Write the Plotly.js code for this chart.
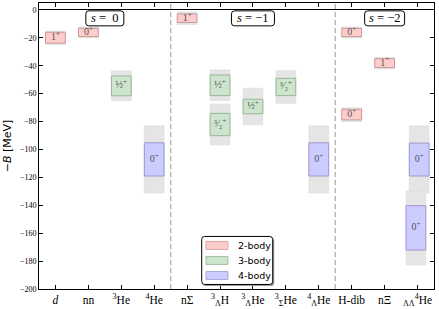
<!DOCTYPE html>
<html>
<head>
<meta charset="utf-8">
<script src="https://cdn.plot.ly/plotly-3.0.1.min.js"></script>
<style>html,body{margin:0;padding:0;background:#fff;}#chart{width:439px;height:309px;}</style>
</head>
<body>
<div id="chart"></div>
<script>
// ---- data ----
const categories = ['<i>d</i>', 'nn', '<sup>3</sup>He', '<sup>4</sup>He', 'nΣ',
  '<sup>3</sup><sub>Λ</sub>H', '<sup>3</sup><sub>Λ</sub>He', '<sup>3</sup><sub>Σ</sub>He',
  '<sup>4</sup><sub>Λ</sub>He', 'H-dib', 'nΞ', '<sub>ΛΛ</sub><sup>4</sup>He'];

const sectorLabels = ['<i>s</i> =  0', '<i>s</i> = −1', '<i>s</i> = −2'];
const sectorFirst = [0, 4, 9];
const sectorLast = [3, 8, 11];

// 2-body states
const twoCat = [0, 1, 4, 9, 9, 10];
const twoCenter = [-19.9, -16.1, -5.9, -16.1, -75.0, -38.1];
const twoStat = [3.9, 3.0, 3.1, 3.0, 3.8, 3.2];
const twoTotal = [4.8, 3.8, 4.5, 3.9, 4.9, 4.1];
const twoJP = ['1<sup>+</sup>', '0<sup>+</sup>', '1<sup>+</sup>', '0<sup>+</sup>', '0<sup>+</sup>', '1<sup>+</sup>'];

// 3-body states
const threeCat = [2, 5, 5, 6, 7];
const threeCenter = [-54.4, -54.0, -82.1, -69.2, -55.2];
const threeStat = [7.1, 7.4, 8.0, 5.2, 6.2];
const threeTotal = [10.7, 11.0, 14.7, 13.1, 11.7];
const threeJP = ['½<sup>+</sup>', '½<sup>+</sup>', '³⁄₂<sup>+</sup>', '½<sup>+</sup>', '³⁄₂<sup>+</sup>'];

// 4-body states
const fourCat = [3, 8, 11, 11];
const fourCenter = [-107.1, -107.1, -107.2, -156.2];
const fourStat = [11.9, 11.9, 11.8, 15.9];
const fourTotal = [24.1, 24.1, 24.1, 26.5];
const fourJP = ['0<sup>+</sup>', '0<sup>+</sup>', '0<sup>+</sup>', '0<sup>+</sup>'];

// ---- drawing ----
// states sharing a category whose boxes overlap are nudged sideways
function positions(cats, centers, totals) {
  return cats.map((c, i) => {
    let shift = 0;
    cats.forEach((c2, j) => {
      if (j !== i && c2 === c) {
        const overlap = Math.abs(centers[i] - centers[j]) < totals[i] + totals[j] + 0.5;
        if (overlap) shift = centers[i] > centers[j] ? 0.05 : -0.05;
      }
    });
    return c + shift;
  });
}

const groups = [
  {name: '2-body', cat: twoCat, c: twoCenter, s: twoStat, t: twoTotal, jp: twoJP, fill: '#ffcccc', edge: '#c99a9a'},
  {name: '3-body', cat: threeCat, c: threeCenter, s: threeStat, t: threeTotal, jp: threeJP, fill: '#cce5cc', edge: '#98b498'},
  {name: '4-body', cat: fourCat, c: fourCenter, s: fourStat, t: fourTotal, jp: fourJP, fill: '#ccccff', edge: '#9a9acc'}
];

const barW = 0.6;
const traces = [];
groups.forEach(g => {
  const xs = positions(g.cat, g.c, g.t);
  traces.push({
    type: 'bar', x: xs, y: g.t.map(v => 2 * v), base: g.c.map((c, i) => c - g.t[i]),
    width: barW, marker: {color: '#e5e5e5', line: {color: '#dcdcdc', width: 0.6}},
    showlegend: false, hoverinfo: 'skip'
  });
});
groups.forEach(g => {
  const xs = positions(g.cat, g.c, g.t);
  traces.push({
    type: 'bar', name: g.name, x: xs, y: g.s.map(v => 2 * v), base: g.c.map((c, i) => c - g.s[i]),
    width: barW, marker: {color: g.fill, line: {color: g.edge, width: 1}},
    showlegend: false, hoverinfo: 'skip'
  });
});
groups.forEach(g => {
  const xs = positions(g.cat, g.c, g.t);
  traces.push({
    type: 'scatter', mode: 'text', x: xs, y: g.c, text: g.jp,
    textfont: {family: 'Liberation Serif, serif', size: 10, color: '#555'},
    showlegend: false, hoverinfo: 'skip'
  });
});

// rounded rectangle path in pixel offsets around an anchor
function rounded(w, h, r, dx, dy) {
  const x0 = -w / 2 + dx, x1 = w / 2 + dx, y0 = -h / 2 + dy, y1 = h / 2 + dy;
  return `M ${x0 + r},${y0} L ${x1 - r},${y0} Q ${x1},${y0} ${x1},${y0 + r} L ${x1},${y1 - r} ` +
    `Q ${x1},${y1} ${x1 - r},${y1} L ${x0 + r},${y1} Q ${x0},${y1} ${x0},${y1 - r} ` +
    `L ${x0},${y0 + r} Q ${x0},${y0} ${x0 + r},${y0} Z`;
}

const shapes = sectorFirst.slice(1).map(f => ({
  type: 'line', xref: 'x', yref: 'paper', x0: f - 0.5, x1: f - 0.5, y0: 0, y1: 1,
  line: {color: '#b0b0b0', width: 1.3, dash: '5px,3px'}
}));

const sectorBoxW = [38, 43, 40];
const sectorY = -6;
const annotations = [];
sectorLabels.forEach((lab, i) => {
  const xc = (sectorFirst[i] + sectorLast[i]) / 2;
  shapes.push({
    type: 'path', xref: 'x', yref: 'y', xsizemode: 'pixel', ysizemode: 'pixel',
    xanchor: xc, yanchor: sectorY, path: rounded(sectorBoxW[i], 15, 3, 0, 0),
    fillcolor: '#fff', line: {color: '#000', width: 1}
  });
  annotations.push({
    x: xc, y: sectorY, xref: 'x', yref: 'y', text: lab, showarrow: false,
    font: {family: 'Liberation Serif, serif', size: 12.5, color: '#000'}
  });
});

// legend drawn as a framed box in the lower centre
const legX = 0.5018, legY = 0.0998;
shapes.push({type: 'path', xref: 'paper', yref: 'paper', xsizemode: 'pixel', ysizemode: 'pixel',
  xanchor: legX, yanchor: legY, path: rounded(71, 48, 3, 1.5, -1.5), fillcolor: '#9a9a9a',
  line: {width: 0}, layer: 'above'});
shapes.push({type: 'path', xref: 'paper', yref: 'paper', xsizemode: 'pixel', ysizemode: 'pixel',
  xanchor: legX, yanchor: legY, path: rounded(71, 48, 3, 0, 0), fillcolor: '#fff',
  line: {color: '#000', width: 1}, layer: 'above'});
groups.forEach((g, i) => {
  const yc = legY + (15 - 15 * i) / 285.7;
  shapes.push({type: 'rect', xref: 'paper', yref: 'paper', xsizemode: 'pixel', ysizemode: 'pixel',
    xanchor: legX - 20.3 / 396, yanchor: yc, x0: -11, x1: 11, y0: -4, y1: 4,
    fillcolor: g.fill, line: {color: g.edge, width: 0.8}, layer: 'above'});
  annotations.push({x: legX - 1.2 / 396, y: yc, xref: 'paper', yref: 'paper', xanchor: 'left',
    yanchor: 'middle', text: g.name, showarrow: false,
    font: {family: 'DejaVu Sans, sans-serif', size: 9.5, color: '#000'}});
});

const layout = {
  width: 439, height: 309,
  margin: {l: 38.5, r: 4.5, t: 3.3, b: 20},
  paper_bgcolor: '#fff', plot_bgcolor: '#fff',
  barmode: 'overlay', bargap: 0,
  showlegend: false,
  xaxis: {
    range: [-0.5, 11.5], tickvals: categories.map((_, i) => i), ticktext: categories,
    ticks: 'inside', ticklen: 4, tickcolor: '#000', mirror: 'ticks', showline: true,
    linecolor: '#000', linewidth: 1, showgrid: false, zeroline: false,
    tickfont: {family: 'Liberation Serif, serif', size: 11.5, color: '#000'}, automargin: false
  },
  yaxis: {
    range: [-200, 5], dtick: 20, tick0: 0,
    ticks: 'inside', ticklen: 4, tickcolor: '#000', mirror: 'ticks', showline: true,
    linecolor: '#000', linewidth: 1, showgrid: false, zeroline: true, zerolinecolor: '#000', zerolinewidth: 1,
    tickfont: {family: 'Liberation Serif, serif', size: 8, color: '#000'}, automargin: false,
    title: {text: '−<i>B</i> [MeV]', standoff: 6, font: {family: 'DejaVu Sans, sans-serif', size: 11, color: '#000'}}
  },
  shapes: shapes,
  annotations: annotations
};

Plotly.newPlot('chart', traces, layout, {displayModeBar: false, staticPlot: true});
</script>
</body>
</html>
